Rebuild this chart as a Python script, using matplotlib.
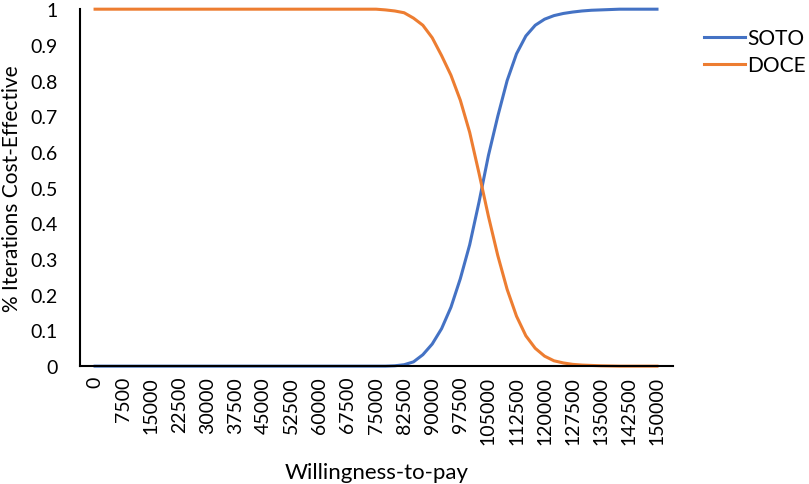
import numpy as np
from matplotlib import pyplot as plt

# willingness-to-pay grid (2500 steps) and probability of being cost-effective
wtp = np.arange(0, 150001, 2500)
soto = [0]*32 + [0.001, 0.004, 0.012, 0.032, 0.062, 0.105, 0.165, 0.245, 0.34, 0.46,
                 0.59, 0.70, 0.80, 0.875, 0.925, 0.955, 0.972, 0.982, 0.988, 0.992,
                 0.995, 0.997, 0.998, 0.999, 1.0] + [1.0]*4
doce = [1.0]*31 + [0.998, 0.995, 0.99, 0.975, 0.955, 0.92, 0.87, 0.815, 0.745, 0.655,
                   0.54, 0.42, 0.31, 0.215, 0.14, 0.085, 0.05, 0.028, 0.015, 0.009,
                   0.005, 0.003, 0.002, 0.001, 0.0005] + [0.0]*5
tick_vals = np.arange(0, 150001, 7500)

plt.rcParams['font.family'] = ['Lato', 'DejaVu Sans']

fig = plt.figure(figsize=(8.09, 4.85), dpi=100)
ax = fig.add_axes([0.099, 0.243, 0.733, 0.736])

ax.plot(wtp, soto, color='#4472C4', lw=2.2, label='SOTO', clip_on=False)
ax.plot(wtp, doce, color='#ED7D31', lw=2.2, label='DOCE', clip_on=False)

ax.set_xlim(-4000, 154300)
ax.set_ylim(0, 1)
ax.set_yticks(np.arange(0, 1.01, 0.1))
ax.set_yticklabels(['0', '0.1', '0.2', '0.3', '0.4', '0.5', '0.6', '0.7', '0.8', '0.9', '1'])
ax.set_xticks(tick_vals)
ax.set_xticklabels([str(v) for v in tick_vals], rotation=90)
ax.tick_params(length=0, labelsize=14, pad=7)
ax.tick_params(axis='y', pad=16)

for s in ['top', 'right']:
    ax.spines[s].set_visible(False)
for s in ['left', 'bottom']:
    ax.spines[s].set_linewidth(1.5)

ax.set_xlabel('Willingness-to-pay', fontsize=16, labelpad=13)
ax.set_ylabel('% Iterations Cost-Effective', fontsize=15, labelpad=6)

ax.legend(loc='upper left', bbox_to_anchor=(1.02, 1.0), frameon=False,
          fontsize=15, handlelength=2.0, handletextpad=0.1, labelspacing=0.35)

plt.savefig('out.png', dpi=100)
